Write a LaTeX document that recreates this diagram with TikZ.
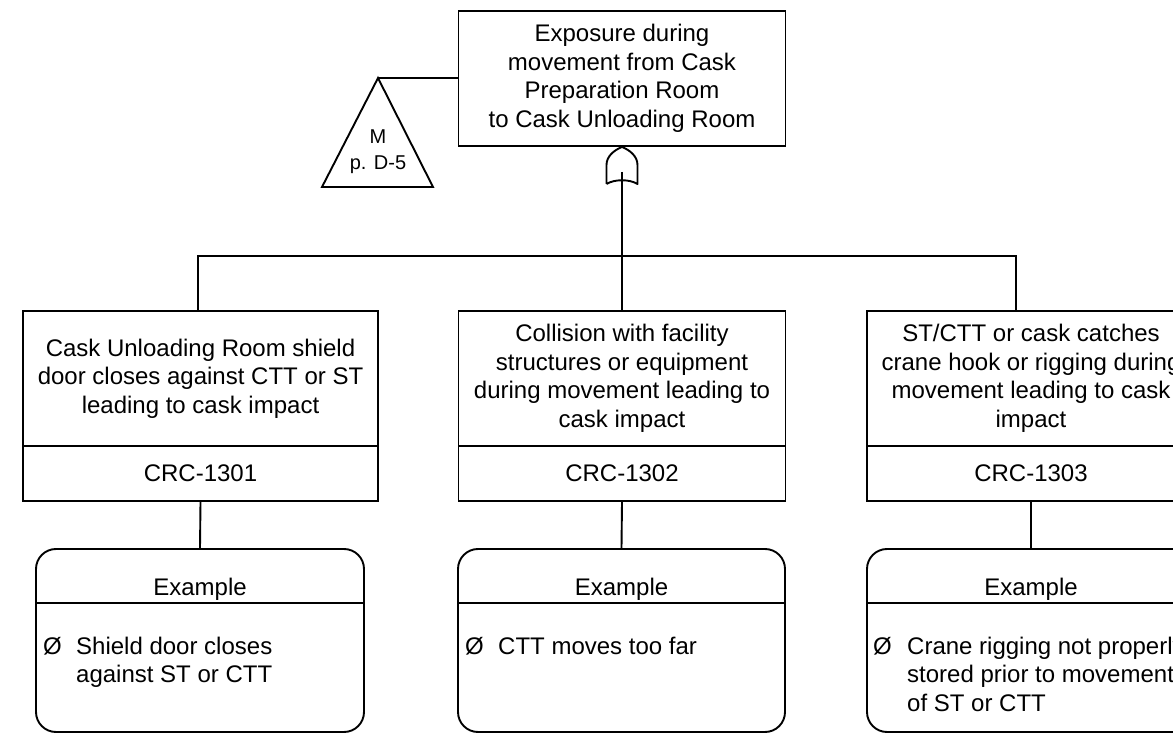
\documentclass[tikz,border=0pt]{standalone}
\usepackage{fontspec}
\setmainfont{Liberation Sans}
\usetikzlibrary{calc}
\begin{document}
\begin{tikzpicture}[x=1pt,y=-1pt,
  every node/.style={font=\fontsize{24}{28.5}\selectfont, inner sep=0pt},
  wire/.style={line width=1.9pt},
  eventbox/.style={draw, line width=1.9pt, align=center, minimum width=#1, minimum height=135},
  codebox/.style={draw, line width=1.9pt, minimum width=#1, minimum height=55},
  examplebox/.style={draw, line width=1.9pt, rounded corners=20, minimum width=#1, minimum height=183},
  smalltext/.style={font=\fontsize{20}{26}\selectfont, anchor=base},
  bullet/.style={anchor=base west}]

\clip (0,0) rectangle (1173,735);
\useasboundingbox (0,0) rectangle (1173,735);

% top event
\node[eventbox=327] (top) at (622,78.5)
  {Exposure during\\movement from Cask\\Preparation Room\\to Cask Unloading Room};

% transfer triangle
\coordinate (triA) at (378,78);
\coordinate (triL) at (322,187);
\coordinate (triR) at (433,187);
\draw[wire, line join=miter] (triA) -- (triL) -- (triR) -- cycle;
\node[smalltext] (triM) at (378,144) {M};
\node[smalltext] (triP) at (378,170) {p. D-5};
\draw[wire] (triA) -- (triA -| top.west);

% OR gate below the top event
\coordinate (orin) at (622,172);
\draw[wire, line join=round] (606.5,184) -- (606.5,165)
  .. controls (606.5,156) and (614.5,150) .. (top.south)
  .. controls (629.5,150) and (637.5,156) .. (637.5,165) -- (637.5,184)
  .. controls (629.5,179) and (614.5,179) .. (606.5,184);

% intermediate events
\node[eventbox=355] (e1) at (200.5,378.5)
  {Cask Unloading Room shield\\door closes against CTT or ST\\leading to cask impact};
\node[codebox=355] (c1) at (200.5,473.5) {CRC-1301};

\node[eventbox=327] (e2) at (622,378.5)
  {Collision with facility\\structures or equipment\\during movement leading to\\cask impact};
\node[codebox=327] (c2) at (622,473.5) {CRC-1302};

\node[eventbox=328] (e3) at (1031,378.5)
  {ST/CTT or cask catches\\crane hook or rigging during\\movement leading to cask\\impact};
\node[codebox=328] (c3) at (1031,473.5) {CRC-1303};

% gate output bus
\coordinate (bus) at (622,256);
\draw[wire] (orin) -- (e2.north);
\draw[wire] ([xshift=-2.5]e1.north) |- (bus) -| ([xshift=-15]e3.north);

% example boxes
\node[examplebox=328] (x1) at (200,640.5) {};
\node[examplebox=327] (x2) at (621.5,640.5) {};
\node[examplebox=328] (x3) at (1031,640.5) {};

\foreach \b in {x1,x2,x3}{
  \draw[wire] ($(\b.north west)+(0,55)$) -- ($(\b.north east)+(0,55)$);
  \node[anchor=base] (\b head) at ($(\b.north)+(0,47)$) {Example};
}

\draw[wire] (c1.south) -- (x1.north);
\draw[wire] (c2.south) -- (x2.north);
\draw[wire] (c3.south) -- (x3.north);

% example lists
\node[bullet] (x1b) at (43,654) {Ø};
\node[bullet] (x1t1) at (76,654) {Shield door closes};
\node[bullet] (x1t2) at (76,682.5) {against ST or CTT};

\node[bullet] (x2b) at (465,654) {Ø};
\node[bullet] (x2t1) at (498,654) {CTT moves too far};

\node[bullet] (x3b) at (873,654) {Ø};
\node[bullet] (x3t1) at (907,654) {Crane rigging not properly};
\node[bullet] (x3t2) at (907,682.5) {stored prior to movement};
\node[bullet] (x3t3) at (907,711) {of ST or CTT};
\end{tikzpicture}
\end{document}
